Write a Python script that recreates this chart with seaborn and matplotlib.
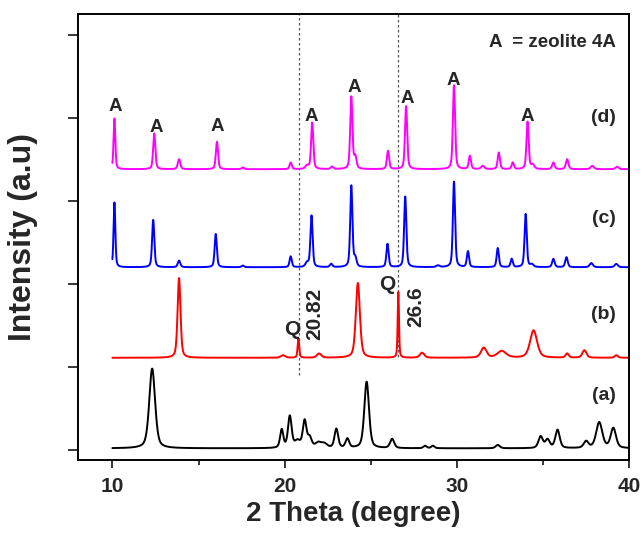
import numpy as np
import pandas as pd
import matplotlib
matplotlib.use("Agg")
import matplotlib.pyplot as plt
from matplotlib.ticker import MultipleLocator
import seaborn as sns

# ---------------- data ----------------
series_names = ["(a)", "(b)", "(c)", "(d)"]
series_colors = ["#000000", "#ff0000", "#0000ff", "#ff00ff"]
baselines = [0.02, 1.11, 2.20, 3.38]

a_pos = [12.31, 19.83, 20.30, 20.75, 21.16, 21.45, 21.95, 22.30, 23.00, 23.64, 24.76,
         26.24, 28.15, 28.60, 32.37, 34.86, 35.26, 35.84, 37.50, 38.26, 39.08]
a_hgt = [0.96, 0.22, 0.38, 0.08, 0.32, 0.12, 0.06, 0.05, 0.23, 0.11, 0.80,
         0.11, 0.03, 0.03, 0.04, 0.14, 0.10, 0.22, 0.08, 0.31, 0.24]
a_wid = [0.40, 0.22, 0.25, 0.40, 0.25, 0.28, 0.40, 0.40, 0.25, 0.25, 0.32,
         0.28, 0.22, 0.22, 0.28, 0.30, 0.30, 0.30, 0.32, 0.42, 0.36]

b_pos = [13.87, 19.90, 20.80, 22.00, 24.25, 26.60, 27.98, 31.56, 32.60, 34.45, 36.40, 37.40, 39.25]
b_hgt = [0.96, 0.03, 0.23, 0.05, 0.90, 0.79, 0.06, 0.12, 0.08, 0.33, 0.05, 0.09, 0.03]
b_wid = [0.20, 0.30, 0.11, 0.30, 0.28, 0.09, 0.30, 0.38, 0.60, 0.48, 0.22, 0.28, 0.22]

c_pos = [10.12, 12.37, 13.87, 16.00, 17.57, 20.35, 21.30, 21.56, 22.70, 23.87, 24.10,
         25.97, 27.00, 28.90, 29.83, 30.64, 32.37, 33.18, 33.99, 34.35, 35.60, 36.36,
         37.80, 39.25]
c_hgt = [0.78, 0.57, 0.08, 0.40, 0.02, 0.13, 0.05, 0.62, 0.04, 0.98, 0.10,
         0.28, 0.85, 0.02, 1.03, 0.19, 0.23, 0.10, 0.64, 0.03, 0.10, 0.12,
         0.05, 0.04]
c_wid = [0.12, 0.15, 0.17, 0.15, 0.17, 0.15, 0.22, 0.15, 0.17, 0.15, 0.17,
         0.15, 0.15, 0.22, 0.15, 0.15, 0.15, 0.15, 0.15, 0.22, 0.17, 0.17,
         0.22, 0.22]

d_pos = [10.12, 12.43, 13.87, 16.07, 17.57, 20.35, 21.30, 21.60, 22.75, 23.87, 24.10,
         26.00, 27.05, 29.83, 30.75, 31.50, 32.43, 33.24, 34.10, 34.40, 35.60, 36.40,
         37.86, 39.30]
d_hgt = [0.61, 0.43, 0.12, 0.33, 0.02, 0.08, 0.04, 0.56, 0.03, 0.87, 0.14,
         0.22, 0.76, 1.01, 0.16, 0.04, 0.20, 0.08, 0.57, 0.05, 0.08, 0.12,
         0.04, 0.03]
d_wid = [0.12, 0.15, 0.17, 0.15, 0.17, 0.15, 0.22, 0.15, 0.17, 0.15, 0.17,
         0.15, 0.15, 0.15, 0.15, 0.22, 0.15, 0.15, 0.15, 0.22, 0.17, 0.17,
         0.22, 0.22]

a_labels_x = [10.17, 12.54, 16.07, 21.56, 24.05, 27.10, 29.77, 34.10]
a_labels_y = [4.13, 3.88, 3.89, 4.01, 4.36, 4.23, 4.45, 4.01]
series_label_y = [0.66, 1.63, 2.79, 4.00]
q_lines = [20.82, 26.6]
q_line_bottom = [0.90, 1.12]
q_text = ["20.82", "26.6"]
x_ticks = [10, 20, 30, 40]

# ---------------- build profiles ----------------
peaks = {
    "(a)": (a_pos, a_hgt, a_wid),
    "(b)": (b_pos, b_hgt, b_wid),
    "(c)": (c_pos, c_hgt, c_wid),
    "(d)": (d_pos, d_hgt, d_wid),
}
grid = np.linspace(10, 40, 3001)


def profile(pos, hgt, wid, base, eta=0.45):
    y = np.full_like(grid, base)
    for c, h, w in zip(pos, hgt, wid):
        u = (grid - c) / (w / 2.0)
        y += h * (eta / (1 + u ** 2) + (1 - eta) * np.exp(-np.log(2) * u ** 2))
    return y


frames = []
for name, base in zip(series_names, baselines):
    p, h, w = peaks[name]
    frames.append(pd.DataFrame({"theta": grid, "intensity": profile(p, h, w, base), "sample": name}))
df = pd.concat(frames, ignore_index=True)

# ---------------- plot ----------------
sns.set_style("ticks")
plt.rcParams["font.family"] = ["Liberation Sans", "DejaVu Sans"]
plt.rcParams["font.weight"] = "bold"

fig = plt.figure(figsize=(6.44, 5.33), dpi=100)
ax = fig.add_axes([0.121, 0.137, 0.856, 0.837])

sns.lineplot(data=df, x="theta", y="intensity", hue="sample", hue_order=series_names,
             palette=dict(zip(series_names, series_colors)), estimator=None,
             legend=False, linewidth=1.4, ax=ax, sort=False)

ax.set_xlim(8, 40)
ax.set_ylim(-0.12, 5.25)

for xv, yb in zip(q_lines, q_line_bottom):
    ax.plot([xv, xv], [yb, 5.25], linestyle=(0, (2, 2)), color="#555555", lw=0.9, zorder=1)

ax.set_xticks(x_ticks)
ax.xaxis.set_minor_locator(MultipleLocator(5))
ax.set_yticks([0, 1, 2, 3, 4, 5])
ax.set_yticklabels([])
ax.tick_params(axis="x", which="major", direction="out", length=6, width=1.3,
               labelsize=15, pad=6)
ax.tick_params(axis="x", which="minor", direction="out", length=3.5, width=1.3)
ax.tick_params(axis="y", which="major", direction="out", length=7, width=1.3)
for lab in ax.get_xticklabels():
    lab.set_fontweight("bold")
for s in ax.spines.values():
    s.set_visible(True)
    s.set_linewidth(1.4)
    s.set_color("black")

ax.set_xlabel("2 Theta (degree)", fontsize=20, fontweight="bold", labelpad=4)
ax.set_ylabel("Intensity (a.u)", fontsize=23, fontweight="bold", labelpad=18)

for xv, yv in zip(a_labels_x, a_labels_y):
    ax.text(xv, yv, "A", fontsize=13.5, fontweight="bold", ha="center", va="center")

ax.text(39.2, 4.90, "A  = zeolite 4A", fontsize=13.5, fontweight="bold", ha="right", va="center")

for name, yv in zip(series_names, series_label_y):
    ax.text(39.2, yv, name, fontsize=14, fontweight="bold", ha="right", va="center")

ax.text(20.46, 1.45, "Q", fontsize=15, fontweight="bold", ha="center", va="center")
ax.text(21.73, 1.64, q_text[0], fontsize=15, fontweight="bold", ha="center", va="center", rotation=90)
ax.text(25.95, 1.99, "Q", fontsize=15, fontweight="bold", ha="center", va="center")
ax.text(27.63, 1.72, q_text[1], fontsize=15, fontweight="bold", ha="center", va="center", rotation=90)

fig.savefig("out.png", dpi=100)
